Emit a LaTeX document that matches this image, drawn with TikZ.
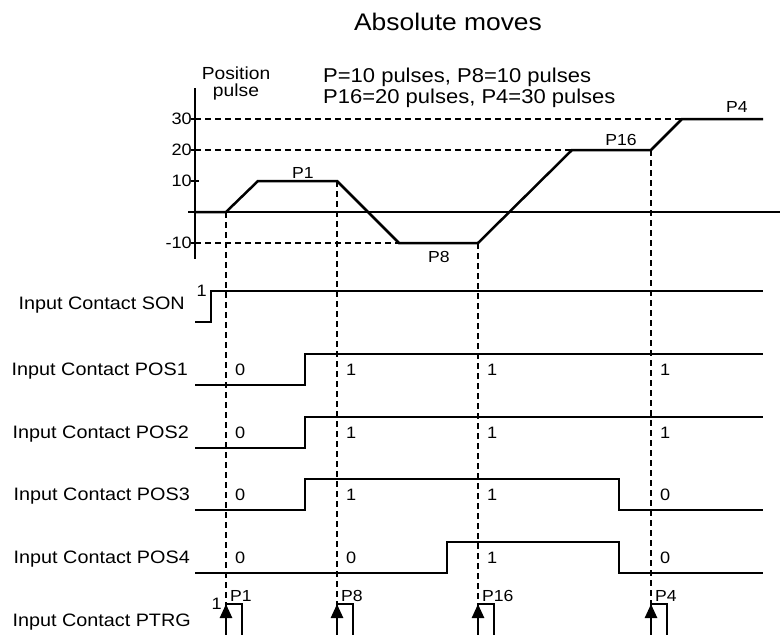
\documentclass[tikz,border=0pt]{standalone}
\usepackage{fontspec}
\setmainfont{Liberation Sans}[FakeStretch=1.1]
\usetikzlibrary{arrows.meta,positioning}

\newcommand{\txtsize}[1]{\fontsize{#1}{#1}\selectfont}

\begin{document}
\begin{tikzpicture}[x=1pt, y=-1pt,
  wave/.style={line width=2.5pt},
  guide/.style={line width=1.1pt, dash pattern=on 6pt off 4pt},
  axisline/.style={line width=1.2pt},
  rowlbl/.style={anchor=base east, inner sep=0pt, font=\txtsize{18}},
  bit/.style={anchor=base west, inner sep=0pt, font=\txtsize{16.5}},
  lvl/.style={anchor=east, inner sep=0pt, font=\txtsize{16.5}},
  ptag/.style={inner sep=0pt, font=\txtsize{16}},
  trig/.style={-{Triangle[length=14pt, width=12pt]}, line width=2.5pt}
]
  \useasboundingbox (0,0) rectangle (780,635);

  % headings
  \node[inner sep=0pt, font=\txtsize{24}] (title) at (448,22) {Absolute moves};
  \node[anchor=base west, inner sep=0pt, font=\txtsize{20}] (info1) at (323,82) {P=10 pulses, P8=10 pulses};
  \node[anchor=base west, inner sep=0pt, font=\txtsize{20}] (info2) at (323,103) {P16=20 pulses, P4=30 pulses};
  \node[anchor=base, inner sep=0pt, font=\txtsize{17.5}] (ylab1) at (236,79) {Position};
  \node[anchor=base, inner sep=0pt, font=\txtsize{17.5}] (ylab2) at (236,96) {pulse};

  % position axes
  \coordinate (origin) at (195,212);
  \coordinate (trigtop) at (0,604);
  \draw[axisline] (195,88) -- (195,259);
  \draw[axisline] (188,212) -- (780,212);
  \node[lvl] (l30) at (192,119) {30};
  \node[lvl] (l20) at (192,150) {20};
  \node[lvl] (l10) at (192,181) {10};
  \node[lvl] (lm10) at (192,243) {-10};
  \foreach \yy in {119,150,181,243}
    \draw[axisline] (191,\yy) -- (199,\yy);

  % profile corners
  \coordinate (s0) at (226,212);
  \coordinate (p1a) at (258,181);
  \coordinate (p1b) at (337,181);
  \coordinate (p8a) at (399,243);
  \coordinate (p8b) at (478,243);
  \coordinate (p16a) at (572,150);
  \coordinate (p16b) at (651,150);
  \coordinate (p4a) at (682,119);
  \coordinate (p4b) at (763,119);

  \draw[guide] (origin |- p4a) -- (p4a);
  \draw[guide] (origin |- p16a) -- (p16a);
  \draw[guide] (origin |- p8a) -- (p8a);
  \foreach \c in {s0,p1b,p8b,p16b}
    \draw[guide] (\c) -- (\c |- trigtop);

  \draw[wave] (origin) -- (s0) -- (p1a) -- (p1b) -- (p8a) -- (p8b) -- (p16a) -- (p16b) -- (p4a) -- (p4b);
  \node[ptag] (t1) at (303,173) {P1};
  \node[ptag] (t8) at (439,257) {P8};
  \node[ptag] (t16) at (621,140) {P16};
  \node[ptag] (t4) at (737,107) {P4};

  % input contacts
  \node[rowlbl] (son) at (185,309) {Input Contact SON};
  \node[rowlbl] (pos1) at (188,375) {Input Contact POS1};
  \node[rowlbl] (pos2) at (189,438) {Input Contact POS2};
  \node[rowlbl] (pos3) at (190,500) {Input Contact POS3};
  \node[rowlbl] (pos4) at (190,563) {Input Contact POS4};
  \node[rowlbl] (ptrg) at (191,626) {Input Contact PTRG};

  \draw[wave] (195,322) -- (211,322) -- (211,291) -- (763,291);
  \node[bit, anchor=base east] (son1) at (207,296) {1};
  \draw[wave] (195,385) -- (305,385) -- (305,354) -- (763,354);
  \draw[wave] (195,448) -- (305,448) -- (305,417) -- (763,417);
  \draw[wave] (195,510) -- (305,510) -- (305,479) -- (619,479) -- (619,510) -- (763,510);
  \draw[wave] (195,573) -- (447,573) -- (447,542) -- (619,542) -- (619,573) -- (763,573);

  \foreach \yy/\va/\vb/\vc/\vd in {369/0/1/1/1, 432/0/1/1/1, 494/0/1/1/0, 557/0/0/1/0} {
    \node[bit] (v\yy a) at (235,\yy+6) {\va};
    \node[bit] (v\yy b) at (346,\yy+6) {\vb};
    \node[bit] (v\yy c) at (487,\yy+6) {\vc};
    \node[bit] (v\yy d) at (660,\yy+6) {\vd};
  }

  % trigger pulses
  \node[bit, anchor=base east] (ptrg1) at (222,609) {1};
  \foreach \xx/\tag in {226/P1, 337/P8, 478/P16, 651/P4} {
    \draw[wave] (\xx,637) -- (\xx,604) -- (\xx+16,604) -- (\xx+16,637);
    \draw[trig] (\xx,637) -- (\xx,604);
    \node[ptag, anchor=base west] (g\tag) at (\xx+4,601) {\tag};
  }
\end{tikzpicture}
\end{document}
